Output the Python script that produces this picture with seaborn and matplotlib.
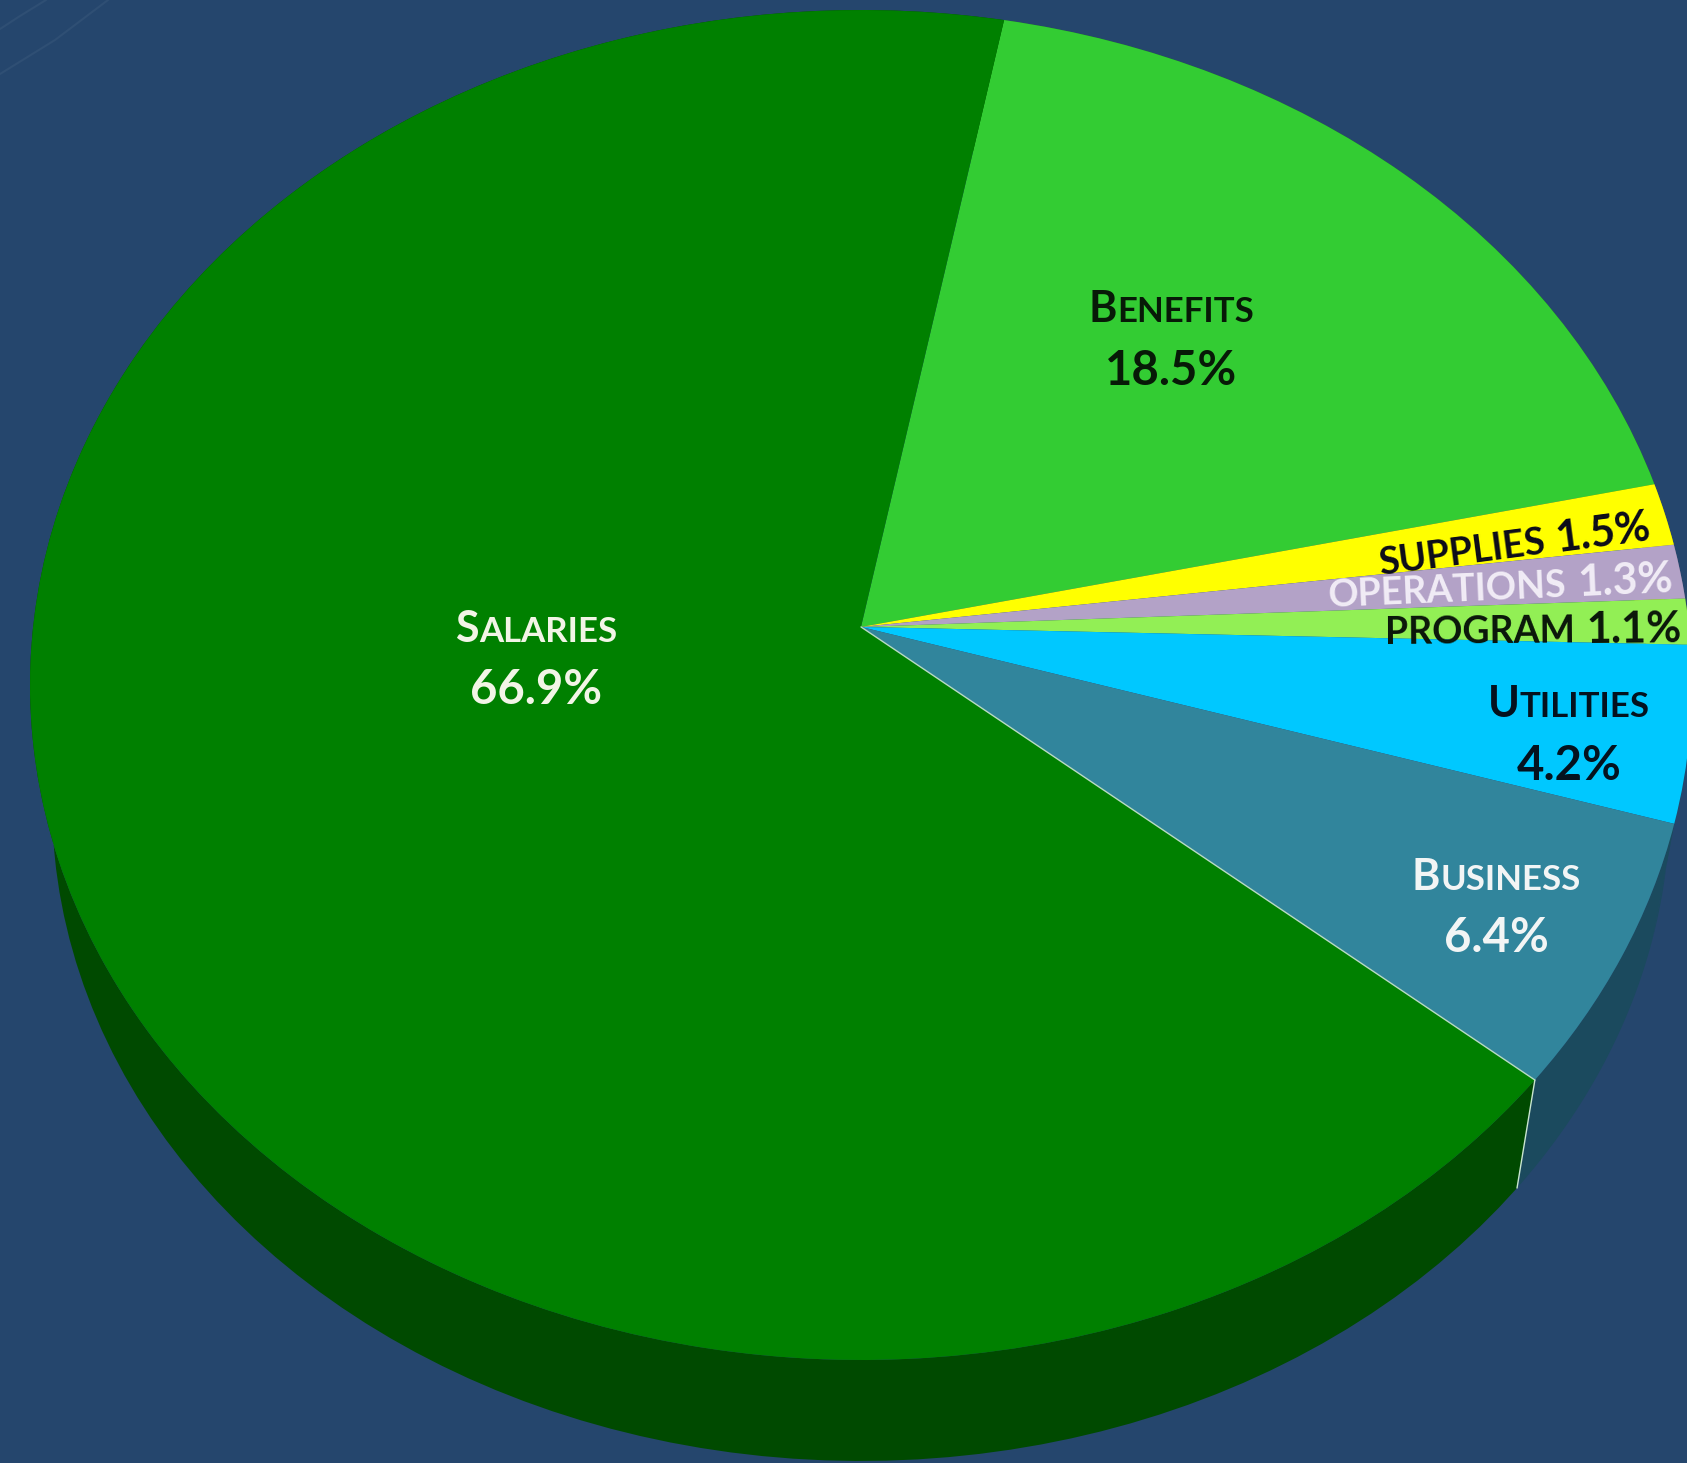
import numpy as np
import matplotlib
matplotlib.use('Agg')
import matplotlib.pyplot as plt
from matplotlib.transforms import Transform
import seaborn as sb

# slices, clockwise from the Benefits / Salaries edge
kategorijas = ['Benefits', 'Supplies', 'Operations', 'Program', 'Utilities', 'Business', 'Salaries']
vertibas = [18.5, 1.5, 1.3, 1.1, 4.2, 6.4, 66.9]
krasas = ['#33cc33', '#ffff00', '#b3a2c7', '#92ef55', '#00c8ff', '#31859c', '#008000']
sanu_krasas = ['#1f7a1f', '#999900', '#6b6178', '#578f33', '#1b4a5e', '#1b4a5e', '#004a00']

fons = '#25466d'
sakuma_lenkis = 79.2

sb.set_theme(style='white')
plt.rcParams['font.family'] = ['Lato', 'DejaVu Sans']
plt.rcParams['font.weight'] = 'bold'


# unit circle -> tilted disc in pixels, apex pushed up by perspective
class Slipums(Transform):
    input_dims = 2
    output_dims = 2
    is_separable = False
    has_inverse = False

    def __init__(self, cx, cy, a, b, c):
        super().__init__()
        self.cx, self.cy, self.a, self.b, self.c = cx, cy, a, b, c

    def transform_non_affine(self, values):
        values = np.asarray(values, dtype=float)
        x, y = values[:, 0], values[:, 1]
        d = 1 + self.c * y
        xx = x * np.sqrt(1 - self.c ** 2) / d
        yy = (y + self.c) / d
        return np.column_stack([self.cx + self.a * xx, self.cy - self.b * yy])


virsa = Slipums(861, 685, 831, 675, 0.086)
apaksa = Slipums(861, 803, 809, 658, 0.086)

fig = plt.figure(figsize=(16.87, 14.63), dpi=100, facecolor=fons)
ax = fig.add_axes([0, 0, 1, 1], facecolor=fons)

# side wall: a strip between the top rim and the bottom rim of each slice
robezas = sakuma_lenkis - 360 * np.cumsum([0] + vertibas) / sum(vertibas)
for i, kr in enumerate(sb.color_palette(sanu_krasas)):
    th = np.deg2rad(np.linspace(robezas[i], robezas[i + 1], 120))
    loks = np.column_stack([np.cos(th), np.sin(th)])
    aug = virsa.transform_non_affine(loks)
    apk = apaksa.transform_non_affine(loks)[::-1]
    strips = np.vstack([aug, apk])
    ax.fill(strips[:, 0], strips[:, 1], color=kr, lw=0)

# top face
daljas, _ = ax.pie(vertibas, colors=sb.color_palette(krasas), startangle=sakuma_lenkis,
                   counterclock=False, wedgeprops={'linewidth': 0})
for w in daljas:
    w.set_transform(virsa + ax.transData)

ax.set_aspect('auto')
ax.set_xlim(0, 1687)
ax.set_ylim(1463, 0)
ax.axis('off')

# hairlines on the Business / Salaries edge
lenkis = np.deg2rad(robezas[6])
mala = np.array([[np.cos(lenkis), np.sin(lenkis)]])
centrs = np.array([[0.0, 0.0]])
p0 = virsa.transform_non_affine(centrs)[0]
p1 = virsa.transform_non_affine(mala)[0]
p2 = apaksa.transform_non_affine(mala)[0]
ax.plot([p0[0], p1[0]], [p0[1], p1[1]], color='#b9dcc4', lw=1.0)
ax.plot([p1[0], p2[0]], [p1[1], p2[1]], color='#c9e6cf', lw=1.0)

# faint background curves in the corner
ax.plot([0, 20, 46], [29, 16, 0], color='#2f4f74', lw=1.5)
ax.plot([0, 55, 108], [74, 40, 0], color='#2f4f74', lw=1.5)

rend = fig.canvas.get_renderer()


# text pieces on one baseline, centred on x,y (pixels)
def rinda(x, y, gabali, krasa, rot=0, atstarpe=0):
    platumi = []
    for teksts, izmers in gabali:
        t = ax.text(0, 0, teksts, fontsize=izmers)
        platumi.append(t.get_window_extent(rend).width)
        t.remove()
    kopa = sum(platumi) + atstarpe * (len(gabali) - 1)
    r = np.deg2rad(rot)
    s = -kopa / 2
    for (teksts, izmers), pl in zip(gabali, platumi):
        ax.text(x + s * np.cos(r), y - s * np.sin(r), teksts, fontsize=izmers, color=krasa,
                rotation=rot, rotation_mode='anchor', ha='left', va='baseline')
        s += pl + atstarpe


def procenti(nosaukums):
    return '{:.1f}%'.format(vertibas[kategorijas.index(nosaukums)])


# big labels: small caps word above the percent
lieli = {'Salaries': (536, 642, 704, '#f2f5e6'),
         'Benefits': (1171, 322, 385, '#071a07'),
         'Utilities': (1569, 717, 780, '#04121f'),
         'Business': (1496, 890, 952, '#f2f5f5')}
for nos, (x, y1, y2, kr) in lieli.items():
    rinda(x, y1, [(nos[0], 31), (nos[1:].upper(), 25)], kr)
    rinda(x, y2, [(procenti(nos), 34)], kr)

# thin slices: one line, following the slice
sauri = {'Supplies': (1516, 557, 7.5, '#0b0b1a'),
         'Operations': (1501, 599, 2.5, '#f1ecf6'),
         'Program': (1533, 643, 0.5, '#0a160a')}
for nos, (x, y, rot, kr) in sauri.items():
    rinda(x, y, [(nos.upper(), 27), (procenti(nos), 31)], kr, rot=rot, atstarpe=11)

fig.savefig('out.png', dpi=100, facecolor=fons)
